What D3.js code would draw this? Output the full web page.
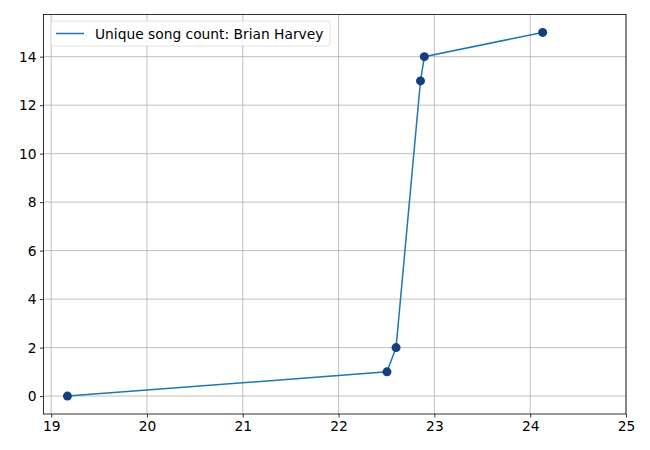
<!DOCTYPE html>
<html><head><meta charset="utf-8">
<script src="https://cdn.jsdelivr.net/npm/d3@7"></script>
<style>body{margin:0;background:#fff}svg{display:block}</style>
</head><body>
<svg id="c" width="650" height="450"></svg>
<script>
const xValues = [19.17, 22.505, 22.60, 22.855, 22.895, 24.13];
const yValues = [0, 1, 2, 13, 14, 15];
const xTicks = [19, 20, 21, 22, 23, 24, 25];
const yTicks = [0, 2, 4, 6, 8, 10, 12, 14];
const seriesLabel = "Unique song count: Brian Harvey";

const svg = d3.select("#c");
const L = 43.5, R = 626, T = 14.5, B = 414;
const x = d3.scaleLinear().domain([18.92, 25]).range([L, R]);
const y = d3.scaleLinear().domain([-0.74, 15.74]).range([B, T]);
const font = "'DejaVu Sans'";
const fs = 13.8;

// grid
const g = svg.append("g");
g.selectAll(".gx").data(xTicks).enter().append("line")
  .attr("x1", d => x(d)).attr("x2", d => x(d)).attr("y1", T).attr("y2", B)
  .attr("stroke", "#b0b0b0").attr("stroke-width", 0.8);
g.selectAll(".gy").data(yTicks).enter().append("line")
  .attr("y1", d => y(d)).attr("y2", d => y(d)).attr("x1", L).attr("x2", R)
  .attr("stroke", "#b0b0b0").attr("stroke-width", 0.8);

// axes
const xAxis = d3.axisBottom(x).tickValues(xTicks).tickSize(3.5).tickPadding(3.5).tickFormat(d3.format("d"));
const yAxis = d3.axisLeft(y).tickValues(yTicks).tickSize(3.5).tickPadding(3.5).tickFormat(d3.format("d"));
const ax = svg.append("g").attr("transform", `translate(0,${B})`).call(xAxis);
const ay = svg.append("g").attr("transform", `translate(${L},0)`).call(yAxis);
[ax, ay].forEach(a => {
  a.select(".domain").remove();
  a.selectAll("text").attr("font-family", font).attr("font-size", fs).attr("fill", "#000");
  a.selectAll("line").attr("stroke", "#000").attr("stroke-width", 0.8);
});

// line
const pts = xValues.map((v, i) => [v, yValues[i]]);
svg.append("path").datum(pts)
  .attr("d", d3.line().x(d => x(d[0])).y(d => y(d[1])))
  .attr("fill", "none").attr("stroke", "#1f77b4").attr("stroke-width", 1.5);
svg.selectAll(".pt").data(pts).enter().append("circle")
  .attr("cx", d => x(d[0])).attr("cy", d => y(d[1])).attr("r", 4.5)
  .attr("fill", "#153e7e");

// frame
svg.append("rect").attr("x", L).attr("y", T).attr("width", R - L).attr("height", B - T)
  .attr("fill", "none").attr("stroke", "#000").attr("stroke-width", 0.8);

// legend
const lg = svg.append("g");
lg.append("rect").attr("x", 51).attr("y", 21).attr("width", 279).attr("height", 25)
  .attr("rx", 2.5).attr("fill", "#fff").attr("fill-opacity", 0.8)
  .attr("stroke", "#d9d9d9").attr("stroke-width", 0.8);
lg.append("line").attr("x1", 56).attr("x2", 84).attr("y1", 33.5).attr("y2", 33.5)
  .attr("stroke", "#1f77b4").attr("stroke-width", 1.5);
lg.append("text").attr("x", 95).attr("y", 38.5).attr("font-family", font).attr("font-size", fs)
  .attr("fill", "#000").text(seriesLabel);
</script>
</body></html>
